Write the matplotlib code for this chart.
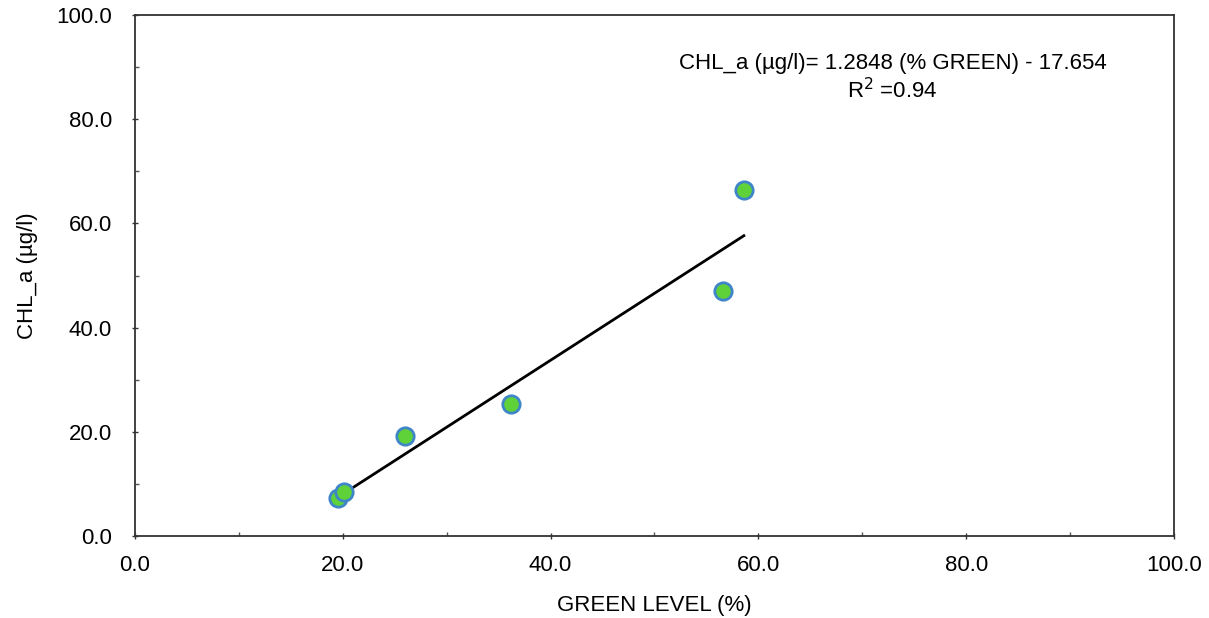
import numpy as np
import matplotlib
matplotlib.use("Agg")
from matplotlib import pyplot as plt
from matplotlib.ticker import MultipleLocator, FormatStrFormatter

plt.rcParams['font.family'] = ['Liberation Sans', 'DejaVu Sans']

green_level = [19.5, 20.1, 26.0, 36.2, 56.6, 58.6]
chl_a = [7.2, 8.5, 19.2, 25.4, 47.0, 66.5]
slope = 1.2848
intercept = -17.654
r2 = 0.94

fig = plt.figure(figsize=(12.09, 6.18), dpi=100)
ax = fig.add_axes([0.1117, 0.1327, 0.8593, 0.843])

fit_x = np.array([min(green_level), max(green_level)])
ax.plot(fit_x, slope * fit_x + intercept, color='black', lw=2, zorder=2)
ax.plot(green_level, chl_a, 'o', ms=12.5, mfc='#5fd23a', mec='#3f86c8', mew=2, zorder=3)

ax.set_xlim(0, 100)
ax.set_ylim(0, 100)
ax.xaxis.set_major_locator(MultipleLocator(20))
ax.xaxis.set_minor_locator(MultipleLocator(10))
ax.yaxis.set_major_locator(MultipleLocator(20))
ax.yaxis.set_minor_locator(MultipleLocator(10))
ax.xaxis.set_major_formatter(FormatStrFormatter('%.1f'))
ax.yaxis.set_major_formatter(FormatStrFormatter('%.1f'))
ax.tick_params(which='major', direction='inout', length=5, width=1, labelsize=16, color='#333333')
ax.tick_params(axis='y', which='major', pad=14)
ax.tick_params(axis='x', which='major', pad=11)
ax.tick_params(which='minor', direction='in', length=3, width=1, color='#555555')
for s in ax.spines.values():
    s.set_color('#333333')
    s.set_linewidth(1.3)

ax.set_xlabel('GREEN LEVEL (%)', fontsize=16, labelpad=14)
ax.set_ylabel('CHL_a (µg/l)', fontsize=16, labelpad=13)

ax.text(72.9, 90.6, 'CHL_a (µg/l)= %.4f (%% GREEN) - %.3f' % (slope, -intercept),
        ha='center', va='center', fontsize=16)
ax.text(72.9, 85.5, 'R$^2$ =%.2f' % r2, ha='center', va='center', fontsize=16)

fig.savefig('out.png', dpi=100)
